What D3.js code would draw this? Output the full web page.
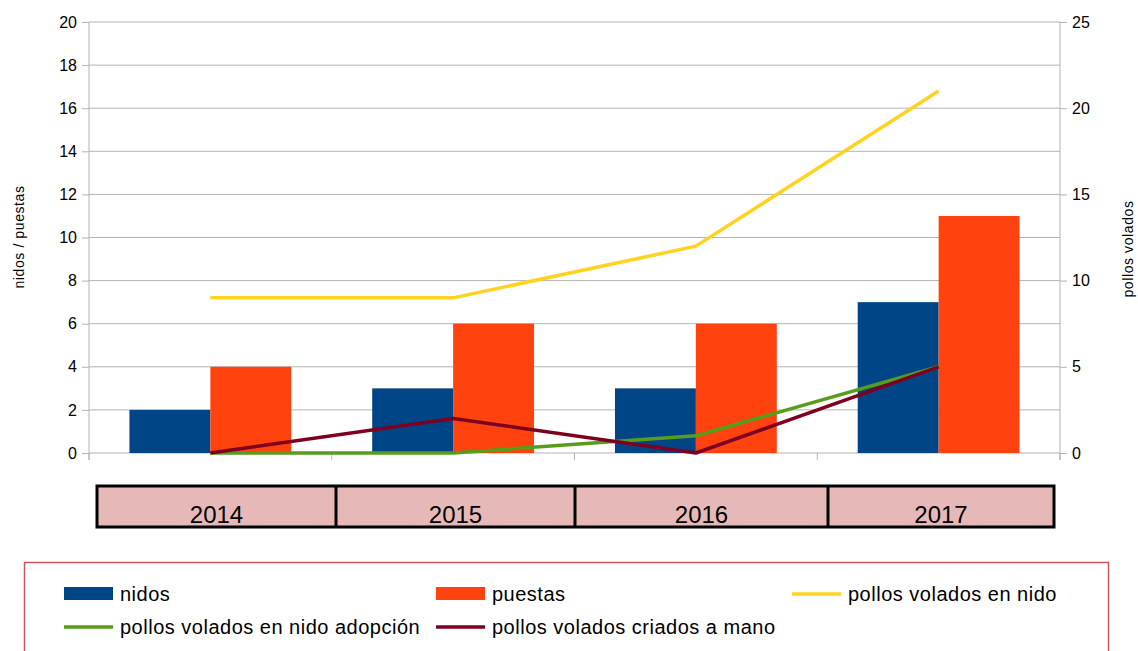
<!DOCTYPE html>
<html>
<head>
<meta charset="utf-8">
<script src="https://cdn.jsdelivr.net/npm/d3@7"></script>
<style>
  body { margin: 0; background: #fff; }
  text { font-family: "Liberation Sans", Arial, sans-serif; fill: #000; }
</style>
</head>
<body>
<script>
// data
const years = ['2014', '2015', '2016', '2017']
const nidos = [2, 3, 3, 7]
const puestas = [4, 6, 6, 11]
const volNido = [9, 9, 12, 21]
const volAdopcion = [0, 0, 1, 5]
const volMano = [0, 2, 0, 5]
const leftTicks = [0, 2, 4, 6, 8, 10, 12, 14, 16, 18, 20]
const rightTicks = [0, 5, 10, 15, 20, 25]

const W = 1138, H = 651
const plot = { left: 89, right: 1060, top: 22, bottom: 453 }

let svg = d3.select('body').append('svg')
    .attr('width', W)
    .attr('height', H)

let x = d3.scaleBand().domain(years).range([plot.left, plot.right]).padding(0)
let xs = d3.scaleBand().domain(['nidos', 'puestas']).range([0, x.bandwidth()]).paddingInner(0).paddingOuter(0.5)
let yL = d3.scaleLinear().domain([0, 20]).range([plot.bottom, plot.top])
let yR = d3.scaleLinear().domain([0, 25]).range([plot.bottom, plot.top])

// grid
svg.append('g').selectAll('line').data(leftTicks).join('line')
    .attr('x1', plot.left).attr('x2', plot.right)
    .attr('y1', d => yL(d)).attr('y2', d => yL(d))
    .attr('stroke', '#b3b3b3').attr('stroke-width', 1)

// axes
let axL = svg.append('g').attr('transform', `translate(${plot.left},0)`)
    .call(d3.axisLeft(yL).tickValues(leftTicks).tickSize(7).tickPadding(5))
let axR = svg.append('g').attr('transform', `translate(${plot.right},0)`)
    .call(d3.axisRight(yR).tickValues(rightTicks).tickSize(7).tickPadding(5))
;[axL, axR].forEach(a => {
    a.select('.domain').attr('stroke', '#b3b3b3').attr('d', `M0,${plot.top}V${plot.bottom + 7}`)
    a.selectAll('.tick line').attr('stroke', '#b3b3b3')
    a.selectAll('.tick text').attr('font-size', 16).attr('font-family', '"Liberation Sans", Arial, sans-serif').attr('fill', '#000')
})

// category boundary ticks
let bounds = years.map(d => x(d)).concat([plot.right])
svg.append('g').selectAll('line').data(bounds).join('line')
    .attr('x1', d => d).attr('x2', d => d)
    .attr('y1', plot.bottom).attr('y2', plot.bottom + 7)
    .attr('stroke', '#b3b3b3')

// axis titles
svg.append('text').attr('transform', 'translate(24,237) rotate(-90)')
    .attr('text-anchor', 'middle').attr('font-size', 14).attr('letter-spacing', 0.6).text('nidos / puestas')
svg.append('text').attr('transform', 'translate(1133,249) rotate(-90)')
    .attr('text-anchor', 'middle').attr('font-size', 14).attr('letter-spacing', 0.6).text('pollos volados')

// bars
const barSeries = [
    { key: 'nidos', values: nidos, color: '#004586' },
    { key: 'puestas', values: puestas, color: '#ff420e' }
]
barSeries.forEach(s => {
    svg.append('g').selectAll('rect').data(years).join('rect')
        .attr('x', (d, i) => x(d) + xs(s.key))
        .attr('width', xs.bandwidth())
        .attr('y', (d, i) => yL(s.values[i]))
        .attr('height', (d, i) => plot.bottom - yL(s.values[i]))
        .attr('fill', s.color)
})

// lines (right axis)
const lineSeries = [
    { key: 'pollos volados en nido', values: volNido, color: '#ffd320' },
    { key: 'pollos volados en nido adopción', values: volAdopcion, color: '#579d1c' },
    { key: 'pollos volados criados a mano', values: volMano, color: '#7e0021' }
]
let line = d3.line()
    .x(d => x(d.year) + x.bandwidth() / 2)
    .y(d => yR(d.v))
lineSeries.forEach(s => {
    svg.append('path')
        .datum(years.map((y, i) => ({ year: y, v: s.values[i] })))
        .attr('d', line)
        .attr('fill', 'none')
        .attr('stroke', s.color)
        .attr('stroke-width', 3.5)
        .attr('stroke-linejoin', 'round')
})

// table of years under the axis
const tableEdges = [97, 336, 575, 828, 1054]
let table = svg.append('g')
table.append('rect').attr('x', tableEdges[0]).attr('y', 486)
    .attr('width', tableEdges[4] - tableEdges[0]).attr('height', 41)
    .attr('fill', '#e6b9b8').attr('stroke', '#000').attr('stroke-width', 3)
table.selectAll('line').data(tableEdges.slice(1, 4)).join('line')
    .attr('x1', d => d).attr('x2', d => d).attr('y1', 486).attr('y2', 527)
    .attr('stroke', '#000').attr('stroke-width', 3)
table.selectAll('text').data(years).join('text')
    .attr('x', (d, i) => (tableEdges[i] + tableEdges[i + 1]) / 2)
    .attr('y', 523)
    .attr('text-anchor', 'middle')
    .attr('font-size', 24)
    .attr('font-family', '"DejaVu Sans", sans-serif')
    .text(d => d)

// legend
svg.append('rect').attr('x', 24.5).attr('y', 562.5).attr('width', 1084).attr('height', 120)
    .attr('fill', 'none').attr('stroke', '#c9575a').attr('stroke-width', 1.5)
const legendItems = [
    { label: 'nidos', color: '#004586', type: 'bar', x: 64, y: 594 },
    { label: 'puestas', color: '#ff420e', type: 'bar', x: 436, y: 594 },
    { label: 'pollos volados en nido', color: '#ffd320', type: 'line', x: 792, y: 594 },
    { label: 'pollos volados en nido adopción', color: '#579d1c', type: 'line', x: 64, y: 627 },
    { label: 'pollos volados criados a mano', color: '#7e0021', type: 'line', x: 436, y: 627 }
]
let lg = svg.append('g').selectAll('g').data(legendItems).join('g')
    .attr('transform', d => `translate(${d.x},${d.y})`)
lg.filter(d => d.type === 'bar').append('rect')
    .attr('x', 0).attr('y', -7).attr('width', 49).attr('height', 13).attr('fill', d => d.color)
lg.filter(d => d.type === 'line').append('line')
    .attr('x1', 0).attr('x2', 49).attr('y1', 0).attr('y2', 0)
    .attr('stroke', d => d.color).attr('stroke-width', 3.5)
lg.append('text').attr('x', 56).attr('y', 7).attr('font-size', 20).attr('letter-spacing', 0.5).text(d => d.label)
</script>
</body>
</html>
